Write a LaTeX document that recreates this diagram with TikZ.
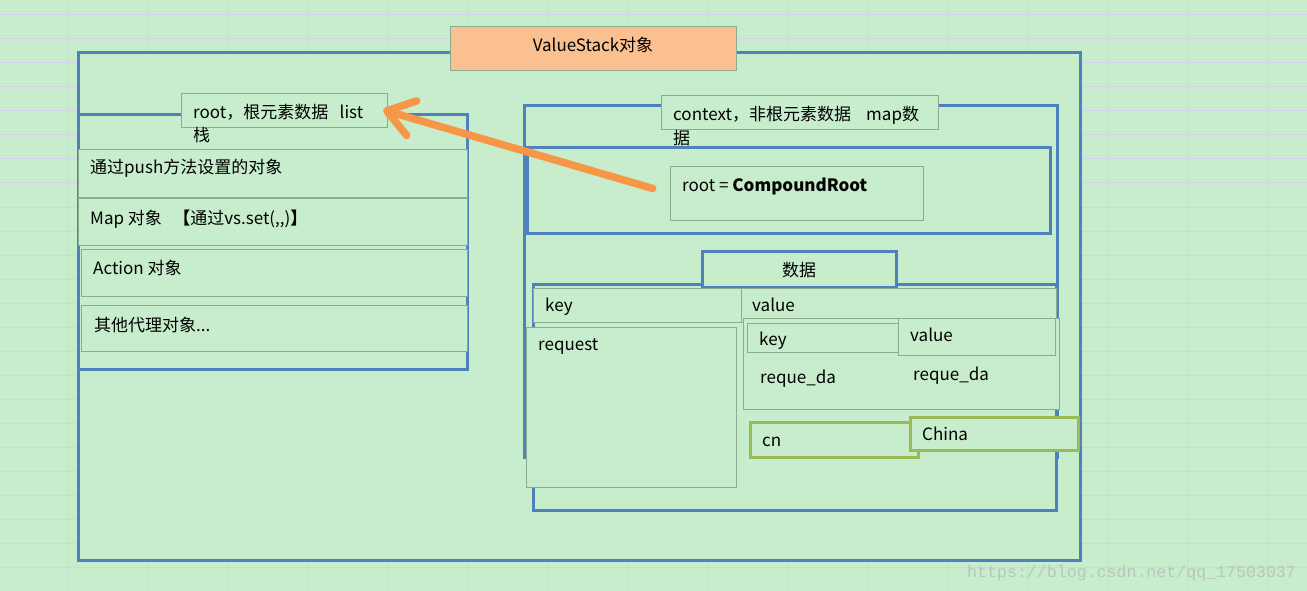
\documentclass[tikz,border=0pt]{standalone}
\usepackage{fontspec}
\setmainfont{Noto Sans CJK SC}
\newfontfamily\wmfont{Liberation Mono}
\usetikzlibrary{arrows.meta,calc}
\definecolor{bg}{RGB}{199,237,205}
\definecolor{gridc}{RGB}{208,212,232}
\definecolor{blueb}{RGB}{79,129,189}
\definecolor{grayb}{RGB}{140,170,140}
\definecolor{greenb}{RGB}{155,187,89}
\definecolor{orangef}{RGB}{250,192,144}
\definecolor{arrowc}{RGB}{247,150,70}
\definecolor{wmc}{RGB}{185,198,188}
\tikzset{
  box/.style={anchor=north west, inner sep=0pt, outer sep=0pt, fill=bg},
  bluebox/.style={box, draw=blueb, line width=3pt},
  graybox/.style={box, draw=grayb, line width=1pt},
  greenbox/.style={box, draw=greenb, line width=3pt},
  lbl/.style={anchor=base west, inner sep=0pt, font=\fontsize{17}{20}\selectfont},
  clbl/.style={lbl, anchor=base},
  bigarrow/.style={draw=arrowc, line width=7.5pt, line cap=round,
    -{Straight Barb[length=26pt,width=36pt,round]}},
}
\newcommand\bx[6]{\node[#1, minimum width=#4pt, minimum height=#5pt] (#6) at (#2,#3) {};}
\begin{document}
\begin{tikzpicture}[x=1pt,y=-1pt]
\useasboundingbox (0,0) rectangle (1307,591);
\fill[bg] (0,0) rectangle (1307,591);
\foreach \k in {0,...,15} \draw[gridc, line width=1pt] ({67+80*\k},0) -- ({67+80*\k},591);
\foreach \k in {0,...,24} \draw[gridc, line width=1pt] (0,{15+24*\k}) -- (1307,{15+24*\k});

% outer frame
\bx{bluebox}{78}{53}{1002}{507}{outer}
\node[box, draw=grayb, line width=1pt, fill=orangef, minimum width=286pt, minimum height=44pt] (vs) at (450,27) {};
\node[clbl] (vst) at (593,52) {ValueStack对象};

% left: root
\bx{bluebox}{78}{115}{389}{254}{left}
\bx{graybox}{181}{94}{206}{34}{rootlbl}
\node[lbl] (roott1) at (193,119) {root，根元素数据\ \ \ list};
\node[lbl] (roott2) at (193,142) {栈};
\bx{graybox}{78}{150}{389}{47}{row1}
\node[lbl] (row1t) at (90,174) {通过push方法设置的对象};
\bx{graybox}{78}{198}{389}{47}{row2}
\node[lbl] (row2t) at (90,224) {Map 对象\ \ \ \textbf{【}通过vs.set({,}{,})\textbf{】}};
\bx{graybox}{81}{249}{386}{47}{row3}
\node[lbl] (row3t) at (93,274) {Action 对象};
\bx{graybox}{81}{305}{386}{46}{row4}
\node[lbl] (row4t) at (94,331) {其他代理对象...};

% right: context
\bx{bluebox}{524}{106}{533}{351}{ctx}
\bx{graybox}{661}{96}{277}{34}{ctxlbl}
\node[lbl] (ctxt1) at (673,121) {context，非根元素数据\ \ \ \ map数};
\node[lbl] (ctxt2) at (673,145) {据};
\bx{bluebox}{527}{148}{523}{85}{inner}
\bx{graybox}{670}{167}{253}{53}{croot}
\node[lbl] (croott) at (682,191) {root = \textbf{CompoundRoot}};

% data
\bx{bluebox}{533}{284}{523}{226}{data}
\bx{bluebox}{702}{251}{194}{36}{datalbl}
\node[clbl] (datat) at (799,276) {数据};
\bx{graybox}{533}{288}{208}{34}{keyh}
\node[lbl] (keyht) at (545,311) {key};
\bx{graybox}{741}{288}{315}{34}{valh}
\node[lbl] (valht) at (752,311) {value};
\bx{graybox}{526}{327}{210}{160}{req}
\node[lbl] (reqt) at (538,350) {request};
\bx{graybox}{743}{318}{316}{91}{itab}
\bx{graybox}{747}{323}{151}{29}{ikey}
\node[lbl] (ikeyt) at (759,345) {key};
\bx{graybox}{898}{318}{157}{37}{ival}
\node[lbl] (ivalt) at (910,341) {value};
\node[lbl] (rq1) at (760,383) {reque\_da};
\node[lbl] (rq2) at (913,380) {reque\_da};
\bx{greenbox}{750}{422}{168}{35}{cn}
\node[lbl] (cnt) at (762,446) {cn};
\bx{greenbox}{910}{417}{168}{33}{china}
\node[lbl] (chinat) at (922,440) {China};

% arrow
\draw[bigarrow, shorten <=18pt, shorten >=-4pt] (croot.west) -- (rootlbl.east);

% watermark
\node[anchor=base west, inner sep=0pt, text=wmc, font=\wmfont\fontsize{16.6}{18}\selectfont] (wm) at (967,577) {https://blog.csdn.net/qq\_17503037};
\end{tikzpicture}
\end{document}
